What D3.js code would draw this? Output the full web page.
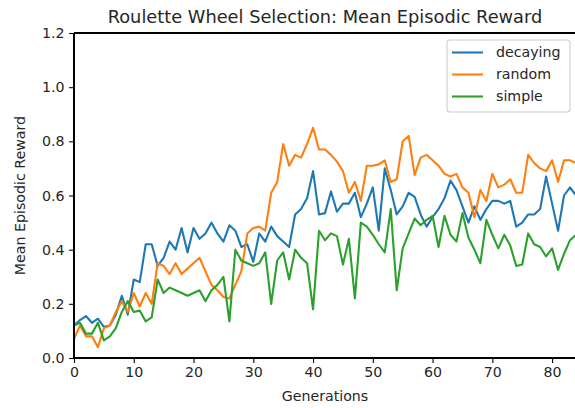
<!DOCTYPE html>
<html>
<head>
<meta charset="utf-8">
<script src="https://cdn.jsdelivr.net/npm/d3@7"></script>
<style>
  html, body { margin: 0; padding: 0; background: #fff; }
  svg { display: block; font-family: "DejaVu Sans", sans-serif; }
</style>
</head>
<body>
<svg id="chart" width="575" height="408"></svg>
<script>
// Mean episodic reward per generation for each mutation schedule
const generations = d3.range(0, 85);
const decaying = [0.12,0.14,0.155,0.13,0.145,0.115,0.12,0.16,0.23,0.16,
  0.29,0.28,0.42,0.42,0.34,0.37,0.43,0.40,0.48,0.39,
  0.48,0.44,0.46,0.50,0.46,0.43,0.49,0.47,0.41,0.42,
  0.355,0.46,0.43,0.485,0.45,0.43,0.41,0.53,0.55,0.59,
  0.69,0.53,0.535,0.615,0.54,0.57,0.57,0.61,0.52,0.57,
  0.63,0.47,0.70,0.62,0.53,0.56,0.61,0.595,0.53,0.485,
  0.52,0.55,0.59,0.655,0.62,0.56,0.50,0.56,0.51,0.55,
  0.58,0.58,0.57,0.58,0.485,0.50,0.53,0.53,0.55,0.67,
  0.57,0.47,0.60,0.63,0.60];
const random = [0.07,0.12,0.08,0.08,0.04,0.11,0.12,0.17,0.21,0.17,
  0.24,0.19,0.24,0.20,0.35,0.34,0.31,0.35,0.31,0.33,
  0.35,0.37,0.32,0.27,0.25,0.225,0.22,0.27,0.32,0.46,
  0.48,0.485,0.47,0.61,0.65,0.79,0.71,0.75,0.74,0.79,
  0.85,0.77,0.77,0.75,0.725,0.69,0.61,0.65,0.58,0.71,
  0.71,0.715,0.73,0.65,0.66,0.80,0.82,0.675,0.74,0.75,
  0.73,0.71,0.68,0.67,0.68,0.63,0.61,0.52,0.62,0.58,
  0.68,0.63,0.64,0.66,0.61,0.61,0.75,0.72,0.70,0.69,
  0.73,0.65,0.73,0.73,0.72];
const simple = [0.12,0.13,0.09,0.09,0.13,0.065,0.08,0.11,0.17,0.21,
  0.17,0.175,0.135,0.15,0.29,0.24,0.26,0.25,0.24,0.23,
  0.24,0.25,0.21,0.25,0.27,0.30,0.135,0.40,0.36,0.35,
  0.34,0.35,0.39,0.20,0.36,0.39,0.29,0.40,0.37,0.35,
  0.18,0.47,0.435,0.46,0.45,0.345,0.44,0.22,0.50,0.485,
  0.455,0.42,0.39,0.55,0.25,0.405,0.46,0.515,0.49,0.51,
  0.525,0.41,0.525,0.455,0.43,0.535,0.445,0.40,0.35,0.51,
  0.455,0.405,0.455,0.415,0.34,0.345,0.46,0.42,0.41,0.375,
  0.405,0.325,0.385,0.435,0.455];

const seriesNames = ["decaying", "random", "simple"];
const seriesValues = [decaying, random, simple];
const seriesColors = ["#1f77b4", "#ff7f0e", "#2ca02c"];
const xTicks = [0, 10, 20, 30, 40, 50, 60, 70, 80];
const yTicks = [0.0, 0.2, 0.4, 0.6, 0.8, 1.0, 1.2];

const titleText = "Roulette Wheel Selection: Mean Episodic Reward";
const xLabel = "Generations";
const yLabel = "Mean Episodic Reward";

const svg = d3.select("#chart");
const plot = { left: 74, top: 33, right: 576, bottom: 358 };

const x = d3.scaleLinear().domain([0, 84]).range([plot.left, plot.right]);
const y = d3.scaleLinear().domain([0, 1.2]).range([plot.bottom, plot.top]);

svg.append("defs").append("clipPath").attr("id", "plot-clip")
  .append("rect")
  .attr("x", plot.left).attr("y", plot.top)
  .attr("width", plot.right - plot.left).attr("height", plot.bottom - plot.top);

// Series lines
const line = d3.line().x((d, i) => x(generations[i])).y(d => y(d));
const lines = svg.append("g").attr("clip-path", "url(#plot-clip)");
seriesValues.forEach((vals, k) => {
  lines.append("path")
    .datum(vals)
    .attr("d", line)
    .attr("fill", "none")
    .attr("stroke", seriesColors[k])
    .attr("stroke-width", 2.1)
    .attr("stroke-linejoin", "round")
    .attr("stroke-linecap", "square");
});

// Axes
const labelFont = 14.2;
const xAxis = svg.append("g")
  .attr("transform", `translate(0,${plot.bottom})`)
  .call(d3.axisBottom(x).tickValues(xTicks).tickFormat(d3.format("d"))
    .tickSizeOuter(0).tickSize(4.9).tickPadding(4));
const yAxis = svg.append("g")
  .attr("transform", `translate(${plot.left},0)`)
  .call(d3.axisLeft(y).tickValues(yTicks).tickFormat(d3.format(".1f"))
    .tickSizeOuter(0).tickSize(4.9).tickPadding(4.5));
[xAxis, yAxis].forEach(a => {
  a.select(".domain").remove();
  a.selectAll(".tick line").attr("stroke", "#000").attr("stroke-width", 1.1);
  a.selectAll(".tick text")
    .attr("fill", "#262626")
    .style("font-family", "DejaVu Sans")
    .style("font-size", labelFont + "px");
});

// Spines
const spines = svg.append("g").attr("stroke", "#000").attr("stroke-width", 1.1)
  .attr("fill", "none").attr("shape-rendering", "crispEdges");
spines.append("line").attr("x1", plot.left).attr("x2", plot.right)
  .attr("y1", plot.top).attr("y2", plot.top);
spines.append("line").attr("x1", plot.left).attr("x2", plot.right)
  .attr("y1", plot.bottom).attr("y2", plot.bottom);
spines.append("line").attr("x1", plot.left).attr("x2", plot.left)
  .attr("y1", plot.top).attr("y2", plot.bottom);
spines.append("line").attr("x1", plot.right).attr("x2", plot.right)
  .attr("y1", plot.top).attr("y2", plot.bottom);

// Title and axis labels
svg.append("text")
  .attr("x", (plot.left + plot.right) / 2).attr("y", 23)
  .attr("text-anchor", "middle")
  .attr("fill", "#262626")
  .style("font-size", "17.8px")
  .text(titleText);
svg.append("text")
  .attr("x", (plot.left + plot.right) / 2).attr("y", 401)
  .attr("text-anchor", "middle")
  .attr("fill", "#262626")
  .style("font-size", labelFont + "px")
  .text(xLabel);
svg.append("text")
  .attr("transform", `translate(25,${(plot.top + plot.bottom) / 2}) rotate(-90)`)
  .attr("text-anchor", "middle")
  .attr("fill", "#262626")
  .style("font-size", labelFont + "px")
  .text(yLabel);

// Legend
const legend = svg.append("g");
legend.append("rect")
  .attr("x", 447).attr("y", 40).attr("width", 123).attr("height", 72)
  .attr("rx", 3).attr("ry", 3)
  .attr("fill", "rgba(255,255,255,0.8)")
  .attr("stroke", "#cccccc").attr("stroke-width", 1.1);
seriesNames.forEach((name, k) => {
  const yy = 52.5 + k * 22;
  legend.append("line")
    .attr("x1", 452).attr("x2", 483).attr("y1", yy).attr("y2", yy)
    .attr("stroke", seriesColors[k]).attr("stroke-width", 2.1);
  legend.append("text")
    .attr("x", 496).attr("y", yy).attr("dy", "0.35em")
    .attr("fill", "#262626")
    .style("font-size", labelFont + "px")
    .text(name);
});
</script>
</body>
</html>
